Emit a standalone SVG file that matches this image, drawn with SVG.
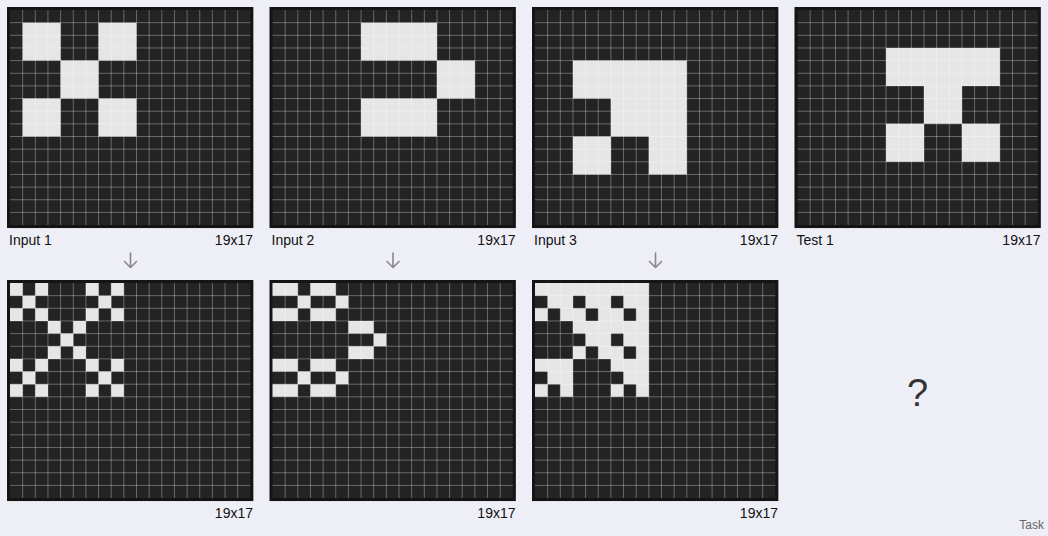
<svg xmlns="http://www.w3.org/2000/svg" xmlns:xlink="http://www.w3.org/1999/xlink" width="1048" height="536" viewBox="0 0 1048 536">
<style>
.frame{fill:#141414}
.bg{fill:#232323}
.on{fill:#e6e6e6}
.grid{fill:none;stroke:#ffffff;stroke-opacity:0.32;stroke-width:1;vector-effect:non-scaling-stroke}
.lbl{font-family:"Liberation Sans",Arial,sans-serif;font-size:14px;fill:#111}
.end{text-anchor:end}
.arrow{fill:none;stroke:#888;stroke-width:1.6;stroke-linecap:round;stroke-linejoin:round}
</style>
<defs>
<path id="grid" class="grid" d="M1 0V17M2 0V17M3 0V17M4 0V17M5 0V17M6 0V17M7 0V17M8 0V17M9 0V17M10 0V17M11 0V17M12 0V17M13 0V17M14 0V17M15 0V17M16 0V17M17 0V17M18 0V17M0 1H19M0 2H19M0 3H19M0 4H19M0 5H19M0 6H19M0 7H19M0 8H19M0 9H19M0 10H19M0 11H19M0 12H19M0 13H19M0 14H19M0 15H19M0 16H19"/>
<g id="panelbase">
<rect class="frame" x="-3" y="-3" width="246.35" height="221.05"/>
<rect class="bg" x="0" y="0" width="240.35" height="215.05"/>
</g>
</defs>
<rect width="1048" height="536" fill="#eeeef6"/>

<g id="input1" transform="translate(10,10)">
<use xlink:href="#panelbase"/>
<g transform="scale(12.65)">
<path class="on" d="M1 1h3v3h-3zM7 1h3v3h-3zM4 4h3v3h-3zM1 7h3v3h-3zM7 7h3v3h-3z"/>
<use xlink:href="#grid"/>
</g>
<text class="lbl" x="-1" y="235">Input 1</text><text class="lbl end" x="243" y="235">19x17</text>
</g>

<g id="output1" transform="translate(10,283)">
<use xlink:href="#panelbase"/>
<g transform="scale(12.65)">
<path class="on" d="M0 0h1v1h-1zM2 0h1v1h-1zM6 0h1v1h-1zM8 0h1v1h-1zM1 1h1v1h-1zM7 1h1v1h-1zM0 2h1v1h-1zM2 2h1v1h-1zM6 2h1v1h-1zM8 2h1v1h-1zM3 3h1v1h-1zM5 3h1v1h-1zM4 4h1v1h-1zM3 5h1v1h-1zM5 5h1v1h-1zM0 6h1v1h-1zM2 6h1v1h-1zM6 6h1v1h-1zM8 6h1v1h-1zM1 7h1v1h-1zM7 7h1v1h-1zM0 8h1v1h-1zM2 8h1v1h-1zM6 8h1v1h-1zM8 8h1v1h-1z"/>
<use xlink:href="#grid"/>
</g>
<text class="lbl end" x="243" y="235">19x17</text>
</g>

<g id="input2" transform="translate(272.5,10)">
<use xlink:href="#panelbase"/>
<g transform="scale(12.65)">
<path class="on" d="M7 1h6v3h-6zM13 4h3v3h-3zM7 7h6v3h-6z"/>
<use xlink:href="#grid"/>
</g>
<text class="lbl" x="-1" y="235">Input 2</text><text class="lbl end" x="243" y="235">19x17</text>
</g>

<g id="output2" transform="translate(272.5,283)">
<use xlink:href="#panelbase"/>
<g transform="scale(12.65)">
<path class="on" d="M0 0h2v1h-2zM3 0h2v1h-2zM2 1h1v1h-1zM5 1h1v1h-1zM0 2h2v1h-2zM3 2h2v1h-2zM6 3h2v1h-2zM8 4h1v1h-1zM6 5h2v1h-2zM0 6h2v1h-2zM3 6h2v1h-2zM2 7h1v1h-1zM5 7h1v1h-1zM0 8h2v1h-2zM3 8h2v1h-2z"/>
<use xlink:href="#grid"/>
</g>
<text class="lbl end" x="243" y="235">19x17</text>
</g>

<g id="input3" transform="translate(535,10)">
<use xlink:href="#panelbase"/>
<g transform="scale(12.65)">
<path class="on" d="M3 4H12V13H9V10H6V7H3ZM3 10h3v3h-3z"/>
<use xlink:href="#grid"/>
</g>
<text class="lbl" x="-1" y="235">Input 3</text><text class="lbl end" x="243" y="235">19x17</text>
</g>

<g id="output3" transform="translate(535,283)">
<use xlink:href="#panelbase"/>
<g transform="scale(12.65)">
<path class="on" d="M0 0h9v1h-9zM1 1h2v1h-2zM4 1h2v1h-2zM7 1h2v1h-2zM0 2h1v1h-1zM2 2h2v1h-2zM5 2h2v1h-2zM8 2h1v1h-1zM3 3h6v1h-6zM4 4h2v1h-2zM7 4h2v1h-2zM3 5h1v1h-1zM5 5h2v1h-2zM8 5h1v1h-1zM0 6h3v1h-3zM6 6h3v1h-3zM1 7h2v1h-2zM7 7h2v1h-2zM0 8h1v1h-1zM2 8h1v1h-1zM6 8h1v1h-1zM8 8h1v1h-1z"/>
<use xlink:href="#grid"/>
</g>
<text class="lbl end" x="243" y="235">19x17</text>
</g>

<g id="test1" transform="translate(797.5,10)">
<use xlink:href="#panelbase"/>
<g transform="scale(12.65)">
<path class="on" d="M7 3H16V6H13V9H10V6H7ZM7 9h3v3h-3zM13 9h3v3h-3z"/>
<use xlink:href="#grid"/>
</g>
<text class="lbl" x="-1" y="235">Test 1</text><text class="lbl end" x="243" y="235">19x17</text>
</g>

<g id="test1-output">
<text x="917.5" y="406" text-anchor="middle" style="font-family:'Liberation Sans',Arial,sans-serif;font-size:38px;fill:#333">?</text>
</g>

<g id="connectors">
<path class="arrow" d="M130.5 253V267.5M124.5 261.5L130.5 267.5L136.5 261.5"/>
<path class="arrow" d="M393 253V267.5M387 261.5L393 267.5L399 261.5"/>
<path class="arrow" d="M655.5 253V267.5M649.5 261.5L655.5 267.5L661.5 261.5"/>
</g>

<text x="1044" y="529" text-anchor="end" style="font-family:'Liberation Sans',Arial,sans-serif;font-size:12px;fill:#666">Task</text>
</svg>
